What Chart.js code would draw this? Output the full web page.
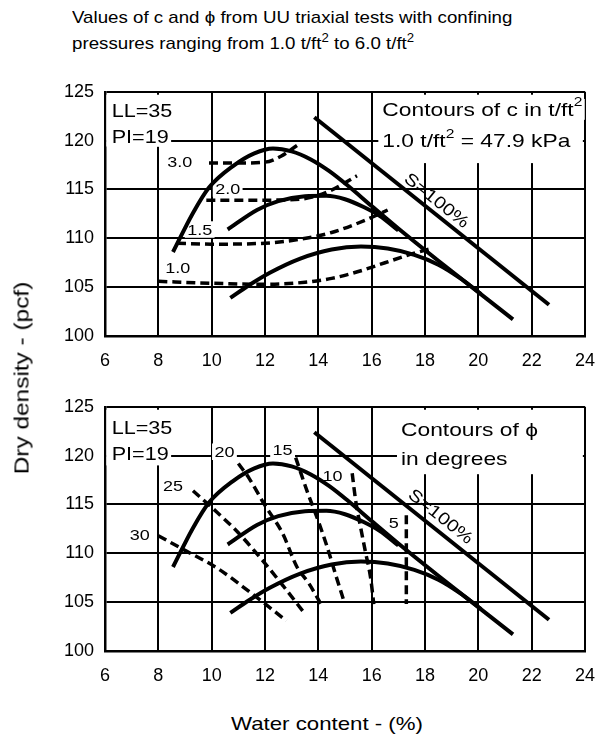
<!DOCTYPE html>
<html lang="en">
<head>
<meta charset="UTF-8">
<title>UU triaxial c and phi contours</title>
<script src="https://cdn.jsdelivr.net/npm/chart.js"></script>
<style>
  body { margin: 0; background: #fff; font-family: "Liberation Sans", Arial, sans-serif; color: #000; }
  .page { position: relative; width: 609px; height: 735px; overflow: hidden; }
  .title { position: absolute; left: 72px; top: 5px; font-size: 17px; line-height: 26px; white-space: nowrap;
           transform: scaleX(1.1); transform-origin: left top; }
  .title sup { font-size: 12px; line-height: 0; }
  .plot { position: absolute; left: 0; }
  .ytitle { position: absolute; left: 22px; top: 378px; font-size: 20px; white-space: nowrap;
            transform: translate(-50%, -50%) rotate(-90deg) scaleX(1.22); }
  .xtitle { position: absolute; left: 327px; top: 724px; font-size: 19px; white-space: nowrap;
            transform: translate(-50%, -50%) scaleX(1.17); }
</style>
</head>
<body>
<div class="page">
  <div class="title">Values of c and &#981; from UU triaxial tests with confining<br>
    pressures ranging from 1.0 t/ft<sup>2</sup> to 6.0 t/ft<sup>2</sup></div>
  <canvas id="chartC" class="plot" width="609" height="310" style="top:70px"></canvas>
  <canvas id="chartPhi" class="plot" width="609" height="310" style="top:385px"></canvas>
  <div class="ytitle">Dry density - (pcf)</div>
  <div class="xtitle">Water content - (%)</div>
</div>

<script>
// water content (%) / dry density (pcf) pairs
const compactionHigh = [[8.55,108.6],[9.3,112.6],[9.9,115.2],[10.8,117.4],[11.6,118.7],[12.3,119.2],[13.0,118.9],[13.7,118.1],[14.4,116.9],[15.1,115.4],[16.0,113.3],[17.0,111.0],[18.5,107.7],[21.3,101.7]];
const compactionMid = [[10.6,110.9],[11.7,112.9],[12.5,113.8],[13.5,114.3],[14.3,114.35],[15.0,114.0],[15.7,113.2],[16.3,112.3],[17.0,110.8]];
const compactionLow = [[10.7,103.9],[11.4,105.2],[12.2,106.5],[13.3,107.9],[14.5,108.85],[15.6,109.15],[16.6,108.95],[17.6,108.3],[18.5,107.3],[19.3,105.95],[20.1,104.3]];
const saturationLine = [[13.85,122.4],[22.65,103.2]];

// contours of c (t/ft2)
const cLevels = ['3.0', '2.0', '1.5', '1.0'];
const c30 = [[9.9,117.7],[11.0,117.7],[12.0,117.8],[12.6,118.4],[13.2,119.5]];
const c20 = [[9.8,113.9],[11.5,113.9],[13.3,114.0],[14.3,114.7],[15.45,116.4]];
const c15 = [[8.7,109.5],[10.0,109.4],[12.0,109.5],[13.3,109.9],[14.5,110.6],[15.8,111.9],[16.6,112.9]];
const c10 = [[8.0,105.6],[10.0,105.4],[12.0,105.3],[13.5,105.5],[14.5,105.9],[15.5,106.6],[16.5,107.5],[17.5,108.4],[18.3,109.0]];

// contours of phi (degrees)
const phiLevels = ['30', '25', '20', '15', '10', '5'];
const phi30 = [[8.0,111.8],[9.0,110.3],[10.2,108.5],[11.4,106.1],[12.8,103.1]];
const phi25 = [[9.3,116.4],[10.2,114.2],[11.0,112.1],[11.9,109.3],[12.7,106.6],[13.5,103.8]];
const phi20 = [[11.0,119.2],[11.4,117.7],[12.0,114.9],[12.65,112.1],[13.2,108.6],[13.65,106.9],[14.1,104.8]];
const phi15 = [[13.15,119.8],[13.6,116.2],[14.0,113.3],[14.35,110.5],[14.65,107.8],[14.95,105.2]];
const phi10 = [[15.27,118.2],[15.4,115.4],[15.58,112.75],[15.77,110.1],[15.96,107.5],[16.08,104.8]];
const phi5 = [[17.3,113.9],[17.3,104.8]];

const xTicks = { min: 6, max: 24, step: 2 };
const yTicks = { min: 100, max: 125, step: 5 };

const FONT = '"Liberation Sans", Arial, sans-serif';
const STRETCH = 1.2;   // the scanned lettering is wider than Liberation Sans

function pts(list) {
    return list.map(p => ({ x: p[0], y: p[1] }));
}

function solid(list) {
    return { data: pts(list), borderColor: '#000', borderWidth: 4, pointRadius: 0,
             cubicInterpolationMode: list.length > 2 ? 'monotone' : 'default', tension: 0, fill: false };
}

function dashed(list) {
    return { data: pts(list), borderColor: '#000', borderWidth: 3.5, borderDash: [9, 5], pointRadius: 0,
             cubicInterpolationMode: list.length > 2 ? 'monotone' : 'default', tension: 0, fill: false };
}

// white patches and text notes (positions in data units)
const notesPlugin = {
    id: 'notes',
    beforeDatasetsDraw(chart, args, opts) {
        const ctx = chart.ctx;
        const sx = chart.scales.x, sy = chart.scales.y;
        ctx.save();
        ctx.fillStyle = '#fff';
        (opts.boxes || []).forEach(b => {
            const x1 = sx.getPixelForValue(b[0]), y1 = sy.getPixelForValue(b[3]);
            const x2 = sx.getPixelForValue(b[2]), y2 = sy.getPixelForValue(b[1]);
            ctx.fillRect(x1, y1, x2 - x1, y2 - y1);
        });
        opts.items.forEach(n => {
            const size = n.size || 16;
            const supSize = Math.round(size * 0.7);
            const px = sx.getPixelForValue(n.x), py = sy.getPixelForValue(n.y);
            let w = 0;
            n.parts.forEach(p => {
                ctx.font = (p.sup ? supSize : size) + 'px ' + FONT;
                w += ctx.measureText(p.t).width;
            });
            ctx.translate(px, py);
            if (n.rot) {
                const a = sx.getPixelForValue(saturationLine[0][0]), b = sy.getPixelForValue(saturationLine[0][1]);
                const c = sx.getPixelForValue(saturationLine[1][0]), d = sy.getPixelForValue(saturationLine[1][1]);
                ctx.rotate(Math.atan2(d - b, c - a));
            }
            ctx.scale(n.stretch || STRETCH, 1);
            let left = n.align === 'center' ? -w / 2 : 0;
            if (n.bg !== false) {
                ctx.fillStyle = '#fff';
                ctx.fillRect(left - 2, -size * 0.55, w + 4, size * 1.1);
            }
            ctx.fillStyle = '#000';
            ctx.textBaseline = 'middle';
            ctx.textAlign = 'left';
            n.parts.forEach(p => {
                ctx.font = (p.sup ? supSize : size) + 'px ' + FONT;
                ctx.fillText(p.t, left, p.sup ? -size * 0.35 : 1);
                left += ctx.measureText(p.t).width;
            });
            ctx.setTransform(1, 0, 0, 1, 0, 0);
        });
        ctx.restore();
    }
};

function makeChart(id, datasets, boxes, notes) {
    return new Chart(document.getElementById(id), {
        type: 'line',
        data: { datasets: datasets },
        options: {
            responsive: false,
            animation: false,
            devicePixelRatio: 1,
            layout: { padding: { left: 0, right: 22, top: 15, bottom: 4 } },
            plugins: { legend: { display: false }, tooltip: { enabled: false }, notes: { boxes: boxes, items: notes } },
            scales: {
                x: {
                    type: 'linear', min: xTicks.min, max: xTicks.max,
                    ticks: { stepSize: xTicks.step, color: '#000', padding: 14, font: { size: 18, family: FONT } },
                    grid: { color: '#000', lineWidth: 2, drawTicks: false },
                    border: { color: '#000', width: 2.5 },
                    afterFit(scale) { scale.height = 40; }
                },
                y: {
                    type: 'linear', min: yTicks.min, max: yTicks.max,
                    ticks: { stepSize: yTicks.step, color: '#000', padding: 11, font: { size: 18, family: FONT } },
                    grid: { color: '#000', lineWidth: 2, drawTicks: false },
                    border: { color: '#000', width: 2.5 },
                    afterFit(scale) { scale.width = 105; }
                }
            }
        },
        plugins: [notesPlugin]
    });
}

const compaction = [solid(compactionHigh), solid(compactionMid), solid(compactionLow), solid(saturationLine)];

makeChart('chartC',
    compaction.concat([dashed(c30), dashed(c20), dashed(c15), dashed(c10)]),
    [[6.05, 119.4, 8.3, 124.7], [16.25, 117.7, 23.92, 124.7]],
    [
        { x: 6.25, y: 123.0, size: 18, parts: [{ t: 'LL=35' }] },
        { x: 6.25, y: 120.4, size: 18, parts: [{ t: 'PI=19' }] },
        { x: 8.8, y: 117.8, size: 15, align: 'center', parts: [{ t: cLevels[0] }] },
        { x: 10.6, y: 115.1, size: 15, align: 'center', parts: [{ t: cLevels[1] }] },
        { x: 9.55, y: 110.9, size: 15, align: 'center', parts: [{ t: cLevels[2] }] },
        { x: 8.73, y: 107.0, size: 15, align: 'center', parts: [{ t: cLevels[3] }] },
        { x: 16.4, y: 123.2, size: 19, parts: [{ t: 'Contours of c in t/ft' }, { t: '2', sup: true }] },
        { x: 16.4, y: 120.0, size: 19, parts: [{ t: '1.0 t/ft' }, { t: '2', sup: true }, { t: ' = 47.9 kPa' }] },
        { x: 18.45, y: 113.9, size: 17, align: 'center', rot: true, bg: false, parts: [{ t: 'S=100%' }] }
    ]);

makeChart('chartPhi',
    compaction.concat([dashed(phi30), dashed(phi25), dashed(phi20), dashed(phi15), dashed(phi10), dashed(phi5)]),
    [[6.05, 119.0, 8.3, 124.7], [16.95, 118.1, 23.92, 124.7]],
    [
        { x: 6.25, y: 122.8, size: 18, parts: [{ t: 'LL=35' }] },
        { x: 6.25, y: 120.2, size: 18, parts: [{ t: 'PI=19' }] },
        { x: 7.3, y: 111.9, size: 15, align: 'center', parts: [{ t: phiLevels[0] }] },
        { x: 8.55, y: 116.9, size: 15, align: 'center', parts: [{ t: phiLevels[1] }] },
        { x: 10.48, y: 120.4, size: 15, align: 'center', parts: [{ t: phiLevels[2] }] },
        { x: 12.66, y: 120.6, size: 15, align: 'center', parts: [{ t: phiLevels[3] }] },
        { x: 14.53, y: 117.9, size: 15, align: 'center', parts: [{ t: phiLevels[4] }] },
        { x: 16.83, y: 113.1, size: 15, align: 'center', parts: [{ t: phiLevels[5] }] },
        { x: 17.1, y: 122.7, size: 19, parts: [{ t: 'Contours of \u03D5' }] },
        { x: 17.1, y: 119.7, size: 19, parts: [{ t: 'in degrees' }] },
        { x: 18.6, y: 113.8, size: 17, align: 'center', rot: true, bg: false, parts: [{ t: 'S=100%' }] }
    ]);
</script>
</body>
</html>
